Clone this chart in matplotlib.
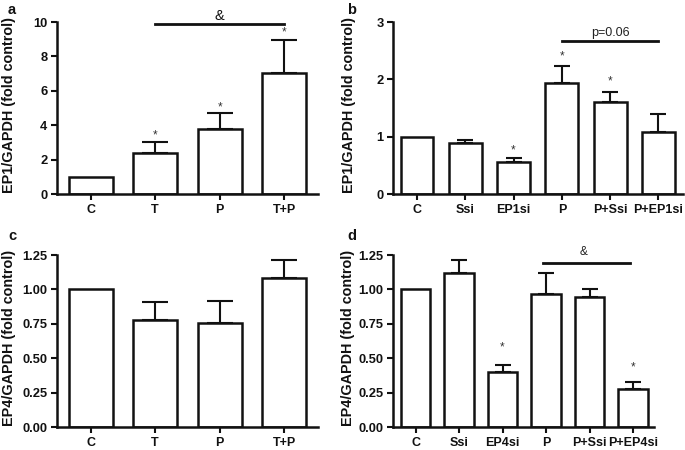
import matplotlib
matplotlib.use("Agg")
import matplotlib.pyplot as plt
import matplotlib.transforms as mtransforms
import numpy as np

plt.rcParams['font.family'] = ['Liberation Sans', 'DejaVu Sans']

# ---- data ----
cats_a = ["C", "T", "P", "T+P"]
vals_a = [1.0, 2.4, 3.8, 7.05]
errs_a = [0.0, 0.62, 0.9, 1.9]
star_a = [None, 3.4, 5.05, 9.4]

cats_b = ["C", "Ssi", "EP1si", "P", "P+Ssi", "P+EP1si"]
vals_b = [1.0, 0.9, 0.56, 1.93, 1.61, 1.09]
errs_b = [0.0, 0.05, 0.07, 0.31, 0.17, 0.31]
star_b = [None, None, 0.77, 2.4, 1.96, None]

cats_c = ["C", "T", "P", "T+P"]
vals_c = [1.0, 0.78, 0.755, 1.08]
errs_c = [0.0, 0.128, 0.16, 0.135]

cats_d = ["C", "Ssi", "EP4si", "P", "P+Ssi", "P+EP4si"]
vals_d = [1.0, 1.117, 0.40, 0.967, 0.943, 0.28]
errs_d = [0.0, 0.095, 0.052, 0.15, 0.062, 0.049]
star_d = [None, None, 0.577, None, None, 0.435]

yt_a = [0, 2, 4, 6, 8, 10]
yt_b = [0, 1, 2, 3]
yt_cd = [0.00, 0.25, 0.50, 0.75, 1.00, 1.25]
yl_cd = ["0.00", "0.25", "0.50", "0.75", "1.00", "1.25"]

TXT = '#111111'
W, H = 685, 450
fig = plt.figure(figsize=(6.85, 4.5), dpi=100)

def panel(rect, cats, vals, errs, xlim, yticks, ylabels, ylabel, capsize, label_px,
          stars=None, star_fs=8.5):
    ax = fig.add_axes(rect)
    x = np.arange(len(cats))
    ax.bar(x, vals, width=0.68, color='white', edgecolor=TXT, linewidth=1.8, zorder=2)
    for xi, v, e in zip(x, vals, errs):
        if e > 0:
            ax.errorbar([xi], [v], yerr=[[0], [e]], fmt='none', ecolor=TXT,
                        elinewidth=1.5, capsize=capsize, capthick=1.5, zorder=3)
    if stars:
        for xi, s in zip(x, stars):
            if s is not None:
                ax.text(xi, s, '*', ha='center', va='center', fontsize=star_fs, color='#333333')
    ax.set_xlim(*xlim)
    ax.set_ylim(yticks[0], yticks[-1])
    ax.set_xticks(x)
    ax.set_xticklabels(cats, fontsize=9, fontweight='bold', color=TXT)
    ax.set_yticks(yticks)
    ax.set_yticklabels(ylabels, fontsize=9.3, fontweight='bold', color=TXT)
    ax.set_ylabel(ylabel, fontsize=10.4, fontweight='bold', color=TXT)
    tr = mtransforms.blended_transform_factory(fig.transFigure, ax.transAxes)
    ax.yaxis.set_label_coords(label_px / W, 0.52, transform=tr)
    for s in ['top', 'right']:
        ax.spines[s].set_visible(False)
    for s in ['left', 'bottom']:
        ax.spines[s].set_linewidth(1.8)
        ax.spines[s].set_color(TXT)
    ax.tick_params(axis='both', direction='out', length=4, width=1.5, color=TXT, pad=3)
    ax.patch.set_alpha(0)
    return ax

axa = panel([0.0832, 0.5682, 0.381, 0.3829], cats_a, vals_a, errs_a, (-0.52, 3.52),
            yt_a, [str(v) for v in yt_a], "EP1/GAPDH (fold control)", 9.7, 16, star_a)
axa.plot([1, 3], [9.9, 9.9], color=TXT, lw=2, clip_on=False)
axa.text(2, 10.35, '&', ha='center', va='center', fontsize=10.5, color=TXT)

axb = panel([0.5742, 0.5682, 0.4229, 0.3829], cats_b, vals_b, errs_b, (-0.49, 5.51),
            yt_b, [str(v) for v in yt_b], "EP1/GAPDH (fold control)", 6.1, 356, star_b)
axb.plot([3, 5], [2.67, 2.67], color=TXT, lw=2, clip_on=False)
axb.text(4, 2.8, 'p=0.06', ha='center', va='center', fontsize=9, color='#222222')

axc = panel([0.0832, 0.0504, 0.381, 0.3829], cats_c, vals_c, errs_c, (-0.52, 3.52),
            yt_cd, yl_cd, "EP4/GAPDH (fold control)", 9.7, 16)

axd = panel([0.5742, 0.0504, 0.3805, 0.3829], cats_d, vals_d, errs_d, (-0.51, 5.48),
            yt_cd, yl_cd, "EP4/GAPDH (fold control)", 6.1, 355, star_d)
axd.plot([2.93, 4.93], [1.19, 1.19], color=TXT, lw=2, clip_on=False)
axd.text(3.87, 1.27, '&', ha='center', va='center', fontsize=8.5, color='#222222')

for lbl, (px, py) in zip("abcd", [(8, 10), (347, 10), (8, 236), (347, 236)]):
    fig.text(px / W, 1 - py / H, lbl, fontsize=10.5, fontweight='bold', color=TXT,
             ha='left', va='center')

fig.savefig("out.png", dpi=100)
